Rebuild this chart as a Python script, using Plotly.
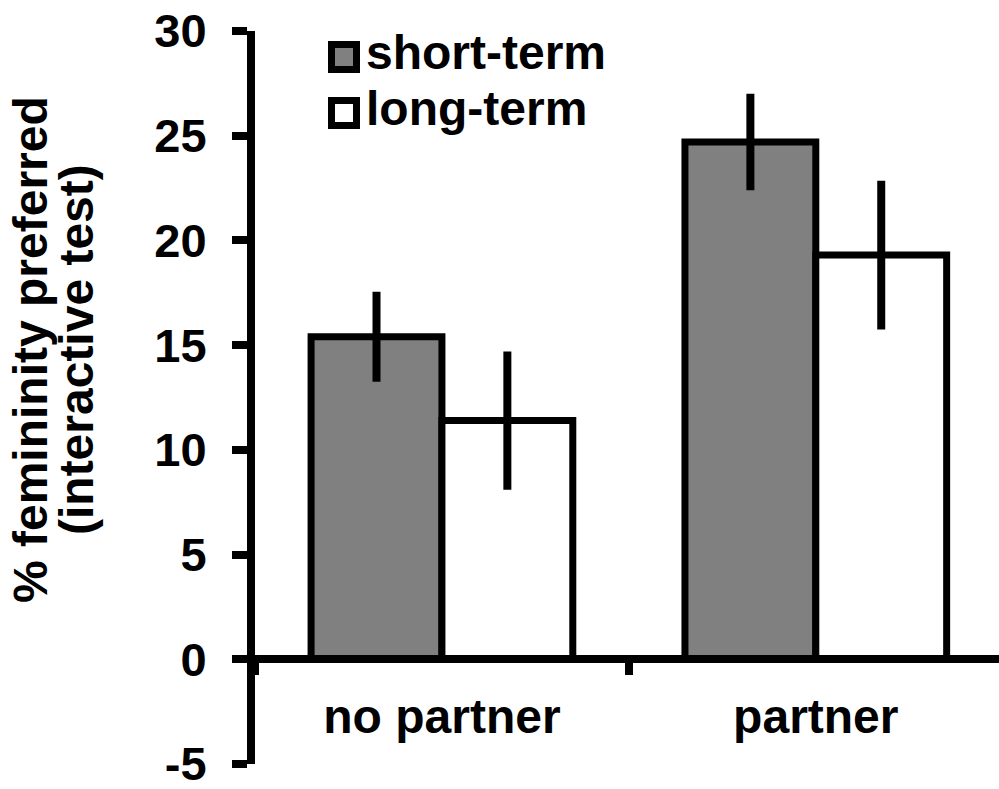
import plotly.graph_objects as go

categories = ["no partner", "partner"]
series_names = ["short-term", "long-term"]
short_term = [15.4, 24.7]
short_err = [2.15, 2.3]
long_term = [11.4, 19.3]
long_err = [3.3, 3.55]
y_ticks = [-5, 0, 5, 10, 15, 20, 25, 30]
y_tick_labels = ["-5", "0", "5", "10", "15", "20", "25", "30"]
y_title_lines = ["% femininity preferred", "(interactive test)"]

FONT = "Liberation Sans, Arial, sans-serif"
fills = ["#808080", "#ffffff"]

TOP, BOTTOM = 31, 25
PLOT_H = 789 - TOP - BOTTOM

fig = go.Figure()
for name, vals, errs, col in [(series_names[0], short_term, short_err, fills[0]),
                              (series_names[1], long_term, long_err, fills[1])]:
    fig.add_trace(go.Bar(
        x=categories, y=vals, name=name, showlegend=False,
        marker=dict(color=col, line=dict(color="black", width=7)),
        error_y=dict(type="data", array=errs, visible=True, color="black",
                     thickness=8, width=0),
    ))

# legend drawn on a small hidden subplot so the swatches can be large
fig.add_trace(go.Scatter(
    x=[0, 0], y=[0, 1], xaxis="x2", yaxis="y2", mode="markers", cliponaxis=False,
    showlegend=False, hoverinfo="skip",
    marker=dict(symbol="square", size=25, color=fills,
                line=dict(color="black", width=7)),
))
fig.add_trace(go.Scatter(
    x=[1, 1], y=[0, 1], xaxis="x2", yaxis="y2", mode="text", cliponaxis=False,
    text=series_names, textposition="middle right",
    showlegend=False, hoverinfo="skip",
    textfont=dict(family=FONT, size=48, color="black", weight="bold"),
))

annotations = []
for i, line in enumerate(y_title_lines):
    annotations.append(dict(
        text="<b>" + line + "</b>", textangle=-90, xref="paper", yref="paper",
        x=(30 + 46 * i - 255) / 744, y=(789 - BOTTOM - 350) / PLOT_H,
        xanchor="center", yanchor="middle",
        showarrow=False, font=dict(family=FONT, size=48, color="black"),
    ))

fig.update_layout(
    width=999, height=789,
    margin=dict(l=255, r=0, t=TOP, b=BOTTOM),
    paper_bgcolor="white", plot_bgcolor="white",
    barmode="group", bargap=0.3, bargroupgap=0,
    font=dict(family=FONT, color="black"),
    xaxis=dict(
        type="category", range=[-0.5, 1.49], anchor="free", position=5 / 35,
        showline=True, linecolor="black", linewidth=8, automargin=False,
        ticks="outside", tickson="boundaries", ticklen=12, tickwidth=8, tickcolor="black",
        showgrid=False, zeroline=False,
        tickfont=dict(family=FONT, size=48, color="black", weight="bold"),
        ticklabelstandoff=12,
    ),
    yaxis=dict(
        range=[-5, 30], tickmode="array", tickvals=y_ticks, ticktext=y_tick_labels,
        showline=True, linecolor="black", linewidth=8,
        ticks="outside", ticklen=15, tickwidth=8, tickcolor="black", automargin=False,
        showgrid=False, zeroline=False, ticklabeloverflow="allow",
        tickfont=dict(family=FONT, size=47, color="black", weight="bold"),
        ticklabelstandoff=16,
    ),
    xaxis2=dict(domain=[(344 - 255) / 744, (366 - 255) / 744], range=[0, 1],
                visible=False, fixedrange=True, anchor="y2"),
    yaxis2=dict(domain=[(789 - BOTTOM - 113) / PLOT_H, (789 - BOTTOM - 57) / PLOT_H],
                range=[1, 0], visible=False, fixedrange=True, anchor="x2"),
    annotations=annotations,
)
fig.write_html("out.html", config={"displayModeBar": False},
               post_script="document.body.style.margin='0';")
